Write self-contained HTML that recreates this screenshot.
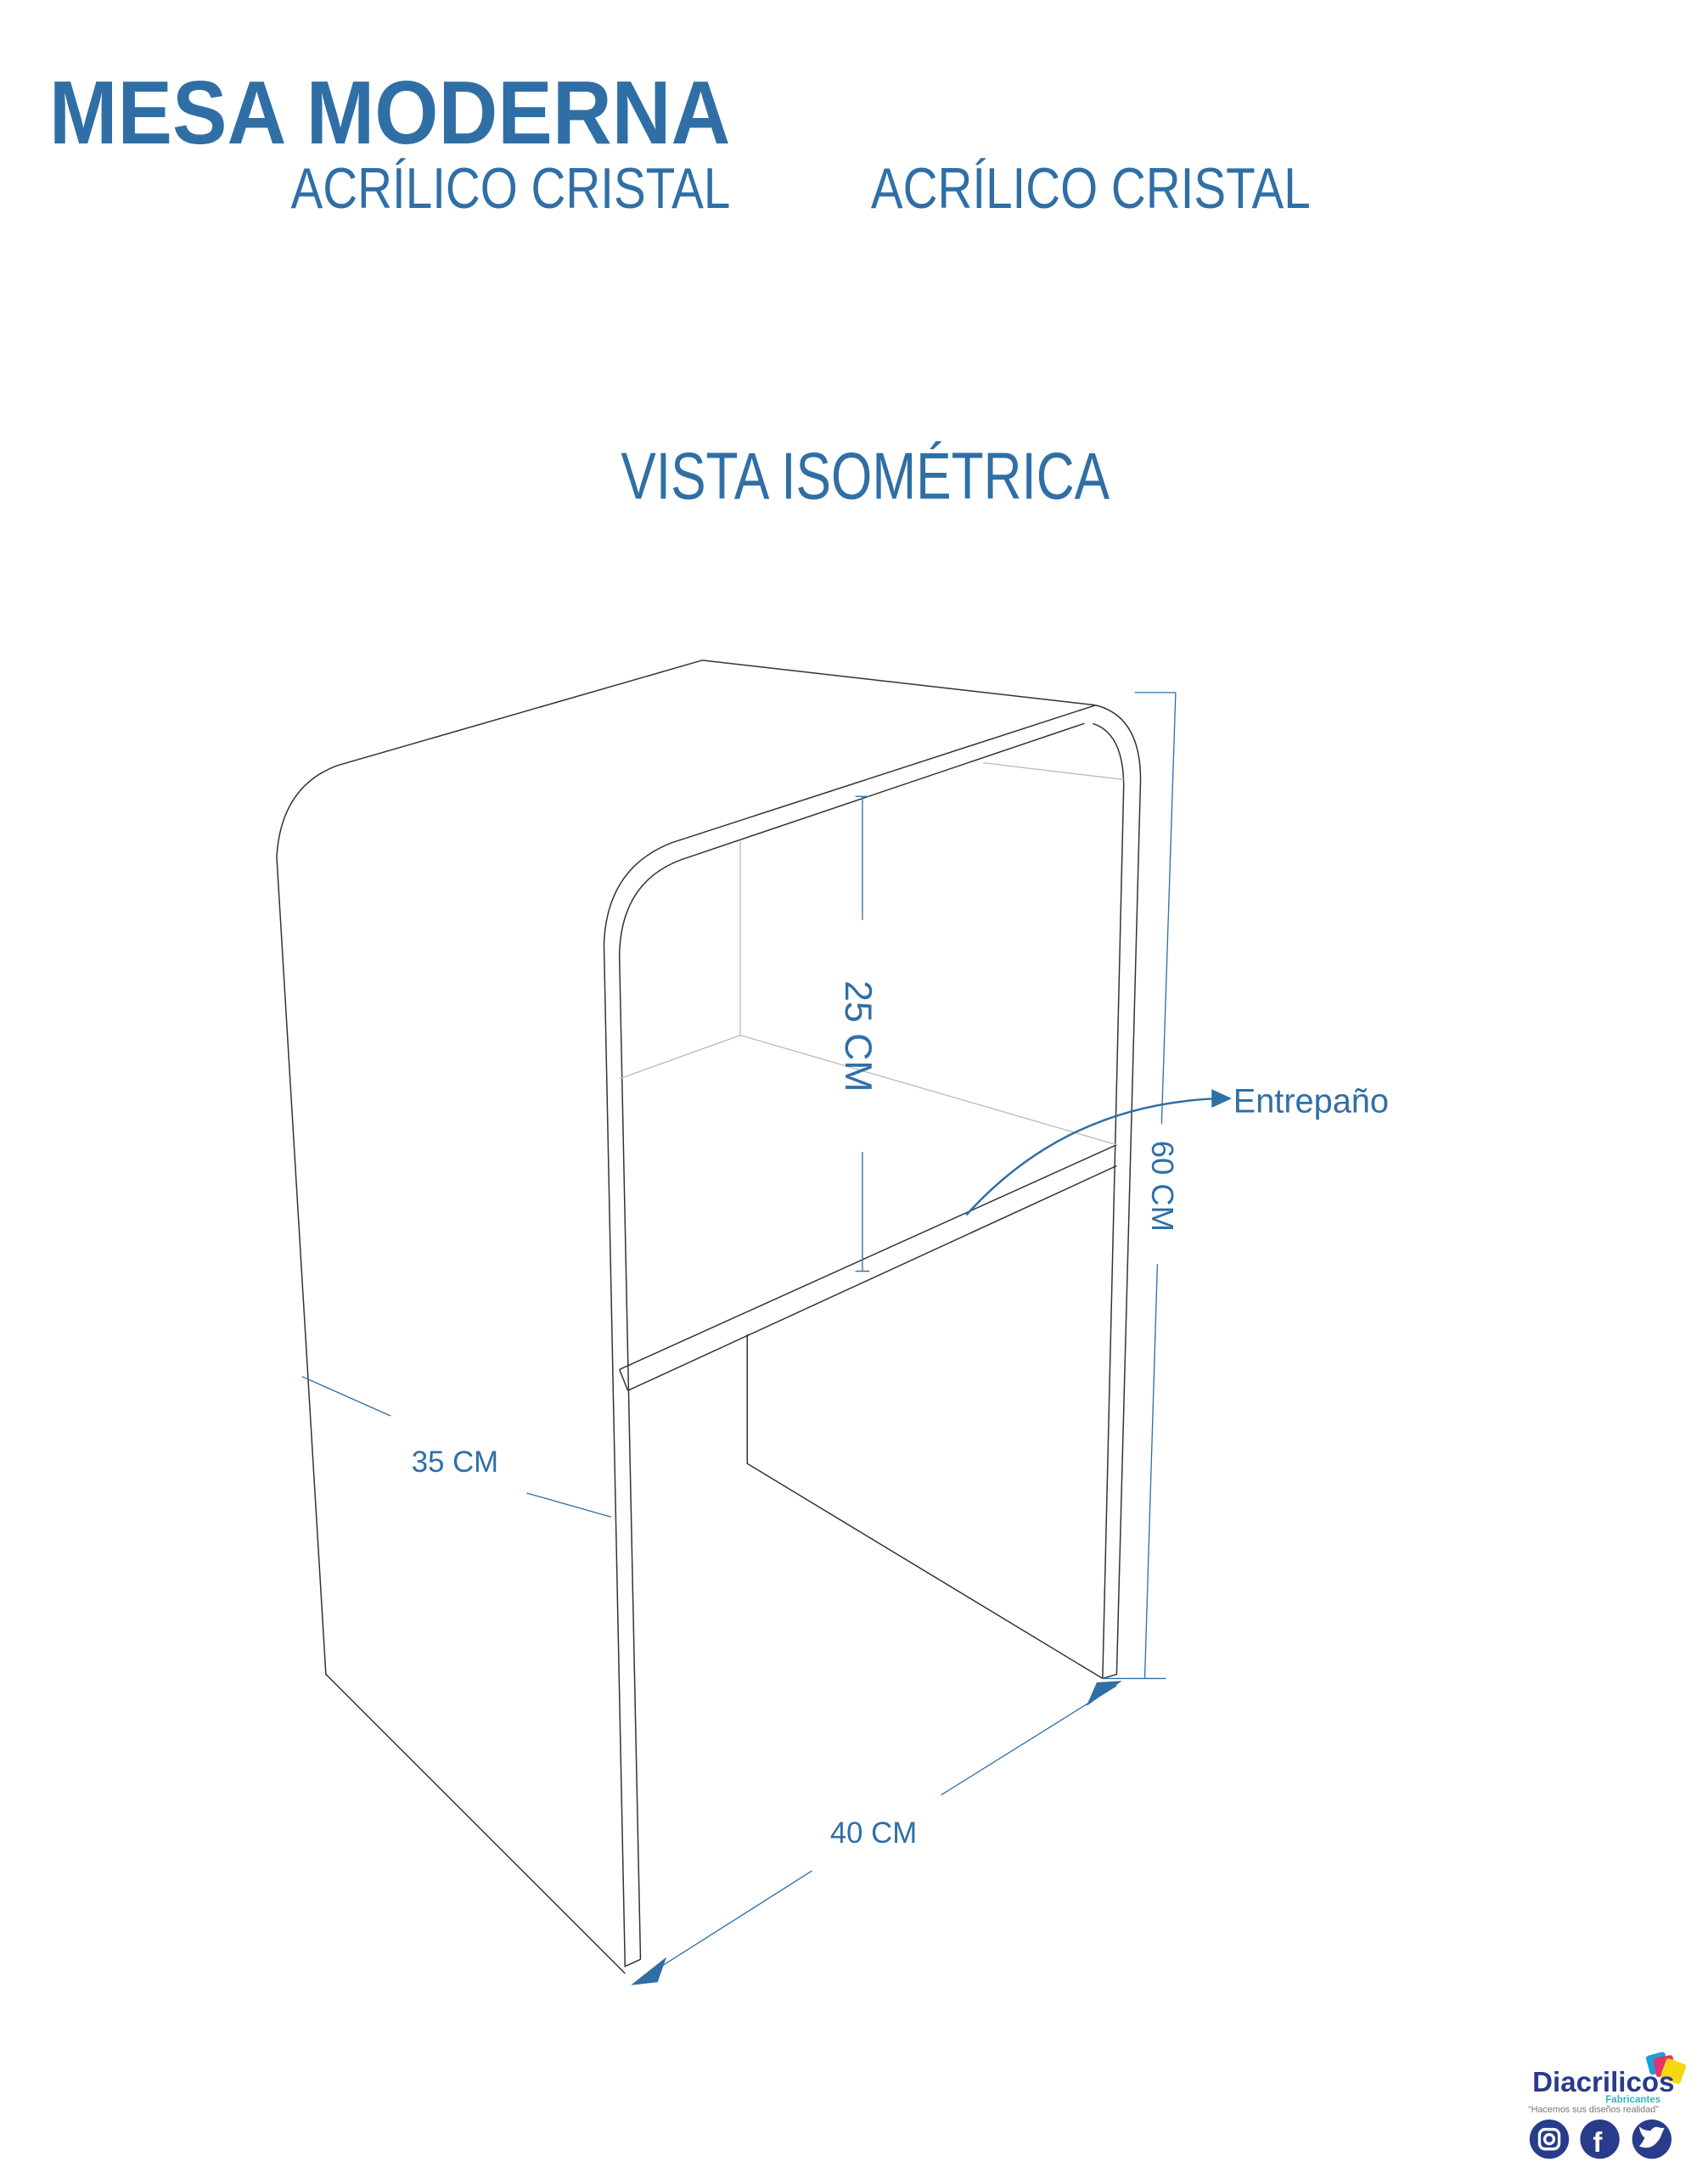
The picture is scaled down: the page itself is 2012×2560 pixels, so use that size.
<!DOCTYPE html>
<html><head><meta charset="utf-8"><style>
html,body{margin:0;padding:0;background:#fff;}
svg{display:block;}
</style></head><body>
<svg width="2012" height="2560" viewBox="0 0 1216 1547" xmlns="http://www.w3.org/2000/svg" font-family="Liberation Sans, sans-serif">
<rect width="1216" height="1547" fill="#fff"/>
<text x="35" y="102" font-size="64" font-weight="bold" fill="#2f6fa6" textLength="485" lengthAdjust="spacingAndGlyphs">MESA MODERNA</text>
<text x="207" y="148" font-size="41" fill="#2f6fa6" textLength="313" lengthAdjust="spacingAndGlyphs">ACRÍLICO CRISTAL</text>
<text x="620" y="148" font-size="41" fill="#2f6fa6" textLength="313" lengthAdjust="spacingAndGlyphs">ACRÍLICO CRISTAL</text>
<text x="442" y="355" font-size="47" fill="#2f6fa6" textLength="348" lengthAdjust="spacingAndGlyphs">VISTA ISOMÉTRICA</text>

<g fill="none" stroke="#333" stroke-width="0.9">
<path d="M780,502 L500,470 L240,545 Q200,560 197,610 L232,1192 L445,1405"/>
<path d="M780,502 L478,600 Q432,618 430,672 L445,1400 L456,1395"/>
<path d="M772,515 L485,612 Q442,628 441,680 L456,1395"/>
<path d="M780,502 Q812,510 812,555 L795,1192 L785,1195"/>
<path d="M778,515 Q800,522 800,560 L785,1195"/>
<path d="M532,950 L532,1042 L785,1195"/>
<path d="M441,975 L795,815 M447,990 L795,830 M441,975 L447,990"/>
</g>
<g fill="none" stroke="#bbb" stroke-width="0.8">
<path d="M527,598 L527,737 L441,768 M527,737 L795,815 M700,543 L800,555"/>
</g>

<g stroke="#2f6fa6" stroke-width="0.8" fill="#2f6fa6">
<line x1="837" y1="493" x2="827" y2="800"/>
<line x1="824" y1="900" x2="815" y2="1195"/>
<line x1="808" y1="493" x2="837" y2="493"/>
<line x1="785" y1="1195" x2="830" y2="1195"/>
<line x1="614" y1="567" x2="614" y2="655"/>
<line x1="614" y1="820" x2="614" y2="905"/>
<line x1="609" y1="567" x2="619" y2="567"/><line x1="609" y1="905" x2="619" y2="905"/>
<line x1="215" y1="980" x2="278" y2="1008"/>
<line x1="375" y1="1063" x2="435" y2="1080"/>
<line x1="455" y1="1410" x2="578" y2="1332"/>
<line x1="670" y1="1278" x2="795" y2="1200"/>
<path d="M450,1413 L474,1394 L468,1411 Z" stroke-width="0.5"/>
<path d="M798,1197 L774,1214 L781,1198 Z" stroke-width="0.5"/>
<path d="M688,865 Q760,785 870,782" fill="none" stroke-width="1.5"/>
<path d="M876,782 L863,776 L863,788 Z"/>
</g>
<g fill="#2f6fa6" stroke="none" font-size="24">
<text x="878" y="792">Entrepaño</text>
<text x="293" y="1048" font-size="21">35 CM</text>
<text x="591" y="1312" font-size="21">40 CM</text>
<text transform="translate(820,812) rotate(90)" font-size="22">60 CM</text>
<text transform="translate(602,698) rotate(90)" font-size="27">25 CM</text>
</g>

<g>
<rect x="1173" y="1462" width="14" height="14" rx="2" fill="#1aa0d8" transform="rotate(-15 1180 1469)"/>
<rect x="1178" y="1464" width="14" height="14" rx="2" fill="#e5336b" transform="rotate(-10 1185 1471)"/>
<rect x="1184" y="1467" width="15" height="15" rx="2" fill="#f5d80f" transform="rotate(20 1191 1474)"/>
<text x="1091" y="1489" font-size="20" font-weight="bold" fill="#2a3a8c">Diacrilicos</text>
<text x="1143" y="1497" font-size="7" font-weight="bold" fill="#33b5c4">Fabricantes</text>
<text x="1088" y="1504" font-size="6.5" fill="#777">“Hacemos sus diseños realidad”</text>
<circle cx="1103" cy="1523" r="14" fill="#283c8c"/>
<rect x="1096" y="1516" width="14" height="14" rx="4" fill="none" stroke="#fff" stroke-width="2"/>
<circle cx="1103" cy="1523" r="3.3" fill="none" stroke="#fff" stroke-width="2"/>
<circle cx="1139" cy="1523" r="14" fill="#283c8c"/>
<text x="1134" y="1532" font-size="20" font-weight="bold" fill="#fff">f</text>
<circle cx="1176" cy="1523" r="14" fill="#283c8c"/>
<path d="M1167,1528 Q1176,1532 1182,1522 Q1184,1517 1185,1515 L1182,1515 Q1178,1513 1175,1517 Q1170,1517 1167,1514 Q1168,1520 1171,1522 Q1169,1526 1167,1528 Z" fill="#fff"/>
</g>
</svg>
</body></html>
